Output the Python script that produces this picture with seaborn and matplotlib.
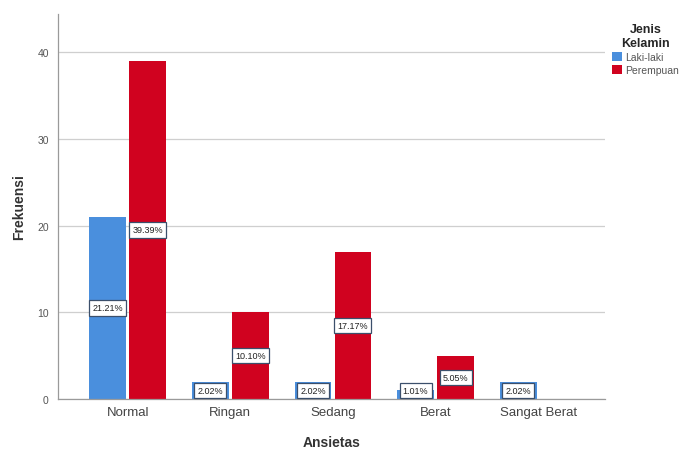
import matplotlib
matplotlib.use("Agg")
import matplotlib.pyplot as plt
import seaborn as sns
import pandas as pd

categories = ["Normal", "Ringan", "Sedang", "Berat", "Sangat Berat"]
laki_laki = [21, 2, 2, 1, 2]
perempuan = [39, 10, 17, 5, 0]
pct_laki = ["21.21%", "2.02%", "2.02%", "1.01%", "2.02%"]
pct_perempuan = ["39.39%", "10.10%", "17.17%", "5.05%", ""]
hue_levels = ["Laki-laki", "Perempuan"]
colors = ["#4A8FDD", "#D0021F"]

df = pd.DataFrame({
    "Ansietas": categories * 2,
    "Frekuensi": laki_laki + perempuan,
    "Jenis Kelamin": [hue_levels[0]] * 5 + [hue_levels[1]] * 5,
})

sns.set_style("white")
plt.rcParams["font.family"] = ["Liberation Sans", "DejaVu Sans"]
fig = plt.figure(figsize=(6.89, 4.52), dpi=100)
ax = fig.add_axes([0.084, 0.115, 0.794, 0.852])

sns.barplot(data=df, x="Ansietas", y="Frekuensi", hue="Jenis Kelamin",
            order=categories, hue_order=hue_levels, palette=colors,
            width=0.78, gap=0.08, saturation=1, ax=ax, legend=True,
            edgecolor="none", linewidth=0)

ax.set_ylim(0, 44.4)
ax.set_xlim(-0.68, 4.65)
ax.set_yticks([0, 10, 20, 30, 40])
ax.yaxis.grid(True, color="#cfcfcf", linewidth=0.9)
ax.set_axisbelow(True)
for s in ["top", "right"]:
    ax.spines[s].set_visible(False)
for s in ["left", "bottom"]:
    ax.spines[s].set_color("#9a9a9a")
    ax.spines[s].set_linewidth(0.9)
ax.tick_params(axis="y", labelsize=7.5, labelcolor="#555555", length=3, color="#9a9a9a")
ax.tick_params(axis="x", labelsize=9.5, labelcolor="#444444", length=0, pad=5)
ax.set_xlabel("Ansietas", fontsize=10, fontweight="bold", color="#333333", labelpad=12)
ax.set_ylabel("Frekuensi", fontsize=10, fontweight="bold", color="#333333", labelpad=8)

# percentage boxes centred on each bar
for ci, cont in enumerate(ax.containers):
    labels = pct_laki if ci == 0 else pct_perempuan
    for bar, lab in zip(cont, labels):
        if not lab:
            continue
        h = bar.get_height()
        ax.text(bar.get_x() + bar.get_width() / 2, max(h / 2, 0.95), lab,
                ha="center", va="center", fontsize=6.5, color="#222222",
                bbox=dict(boxstyle="square,pad=0.35", fc="white",
                          ec="#3b4f6b", lw=0.9))

leg = ax.legend(title="Jenis\nKelamin", loc="upper left",
                bbox_to_anchor=(1.0, 0.995), frameon=False,
                fontsize=7.5, title_fontproperties={"weight": "bold", "size": 9},
                handlelength=0.9, handleheight=0.9, handletextpad=0.3,
                labelspacing=0.3, alignment="center", borderaxespad=0.3)
leg.get_title().set_multialignment("center")
for t in leg.get_texts():
    t.set_color("#555555")

fig.savefig("out.png", dpi=100)
